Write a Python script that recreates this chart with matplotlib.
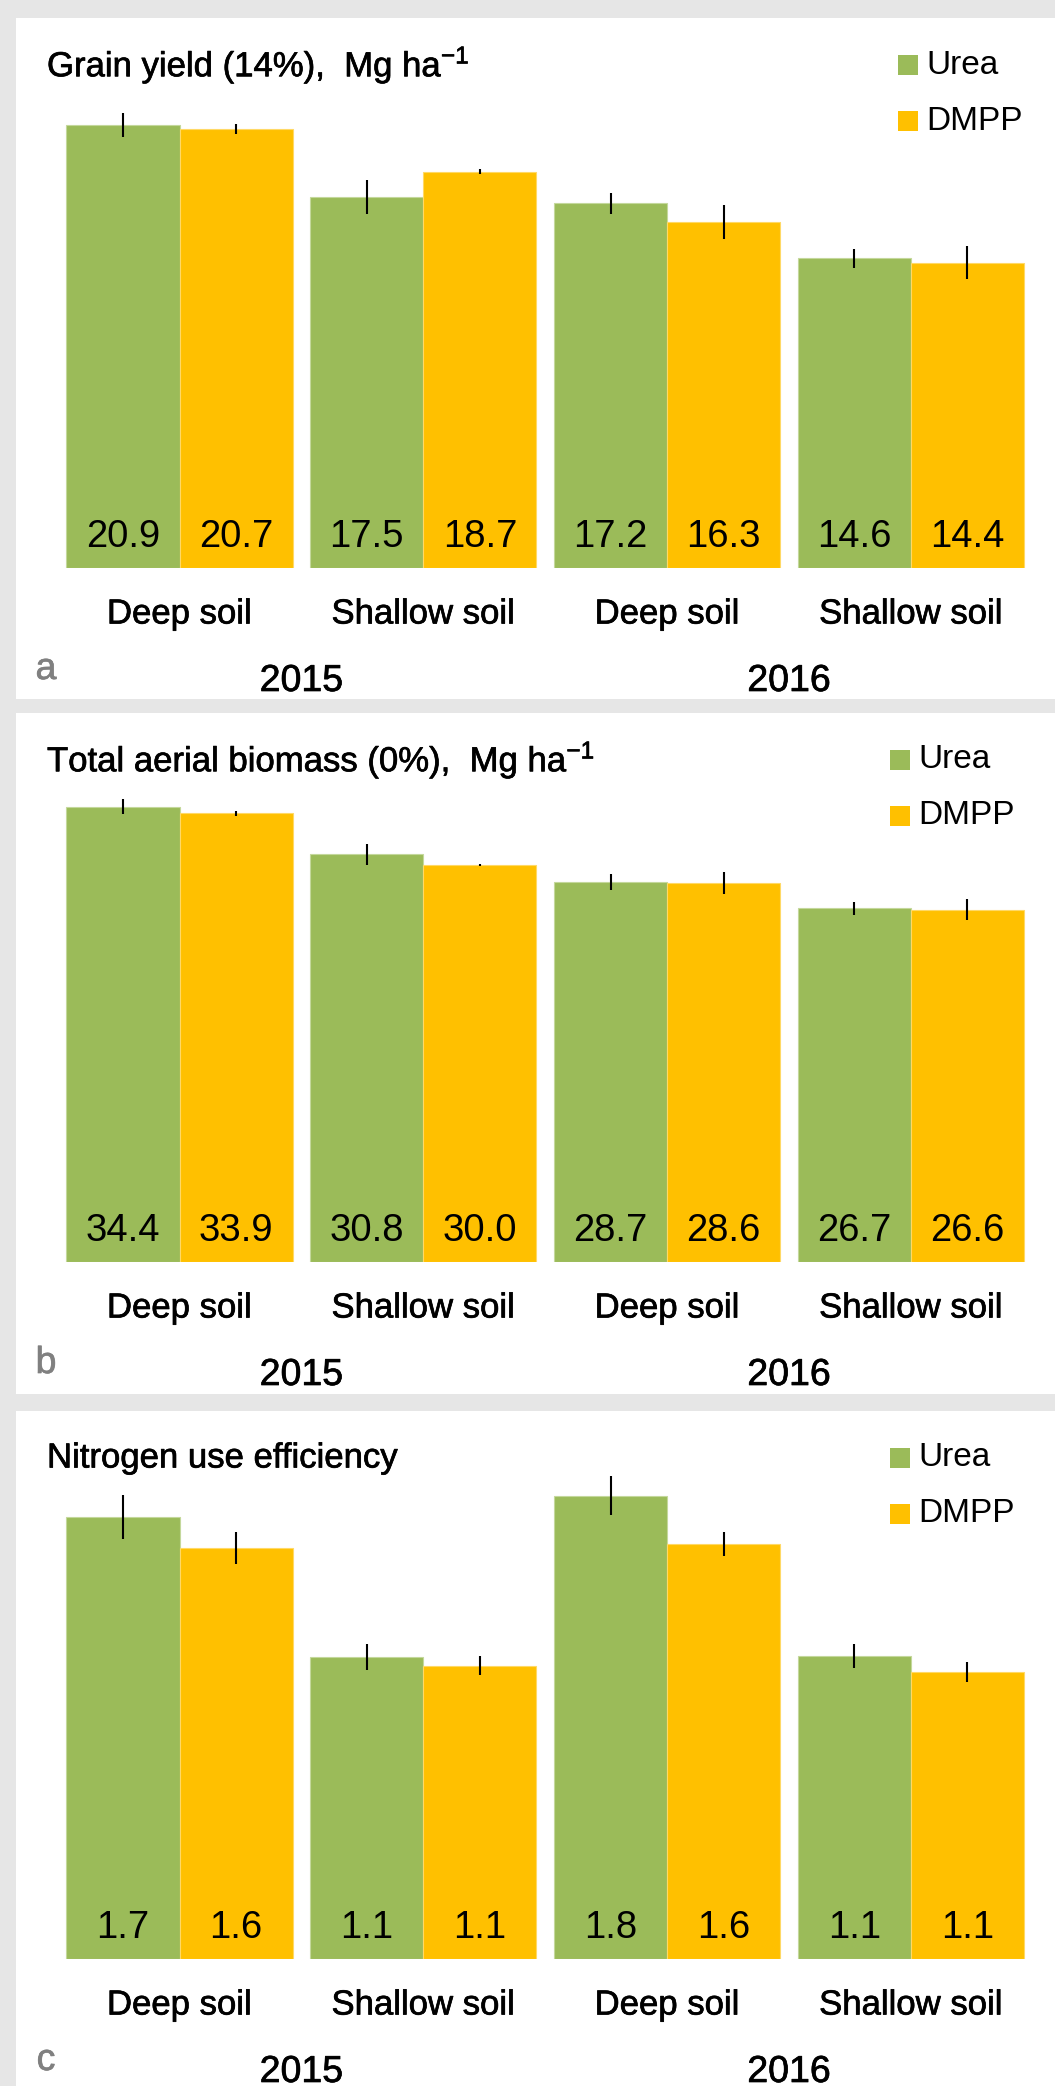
import matplotlib

matplotlib.use("Agg")

import matplotlib.patheffects as path_effects
import matplotlib.pyplot as plt
from matplotlib.patches import Rectangle
import numpy as np


plt.rcParams["font.family"] = ["Liberation Sans", "DejaVu Sans"]
plt.rcParams["mathtext.fontset"] = "custom"
plt.rcParams["mathtext.rm"] = "Liberation Sans"
plt.rcParams["mathtext.default"] = "regular"

# Data
categories = ["Deep soil", "Shallow soil", "Deep soil", "Shallow soil"]
years = ["2015", "2016"]
series_names = ["Urea", "DMPP"]

grain_urea = [20.9, 17.5, 17.2, 14.6]
grain_dmpp = [20.7, 18.7, 16.3, 14.4]
grain_urea_err = [0.57, 0.80, 0.50, 0.47]
grain_dmpp_err = [0.24, 0.12, 0.80, 0.78]

biomass_urea = [34.4, 30.8, 28.7, 26.7]
biomass_dmpp = [33.9, 30.0, 28.6, 26.6]
biomass_urea_err = [0.57, 0.80, 0.57, 0.50]
biomass_dmpp_err = [0.20, 0.08, 0.83, 0.80]

nue_urea = [1.674, 1.144, 1.754, 1.148]
nue_dmpp = [1.557, 1.110, 1.572, 1.087]
nue_urea_err = [0.083, 0.050, 0.074, 0.044]
nue_dmpp_err = [0.060, 0.036, 0.044, 0.038]

GREEN = "#9bbb59"
YELLOW = "#ffc000"
BACKGROUND = "#e6e6e6"

FIG_W, FIG_H = 1055, 2086
PT = 0.72  # points per pixel at dpi 100

# labels in the original are a little heavier than Liberation Sans
HEAVY = [path_effects.withStroke(linewidth=0.5, foreground="black")]
HEAVY_GREY = [path_effects.withStroke(linewidth=0.5, foreground="#808080")]


def fx(px):
    return px / FIG_W


def fy(px):
    return 1 - px / FIG_H


def draw_panel(fig, layout, title, letter, urea, dmpp, urea_err, dmpp_err):
    top, bottom, base, scale, legend_x = layout

    fig.add_artist(Rectangle((fx(16), fy(bottom)), 1 - fx(16),
                             (bottom - top) / FIG_H, transform=fig.transFigure,
                             facecolor="white", edgecolor="none", zorder=0))

    left_px, right_px = 57.6, 1032.9
    axis = fig.add_axes([fx(left_px), fy(base), fx(right_px - left_px),
                         (base - top) / FIG_H])
    axis.set_xlim(-0.5, 3.5)
    axis.set_ylim(0, (base - top) / scale)
    axis.axis("off")

    x = np.arange(len(categories))
    width = 0.4635
    axis.bar(x - width / 2, urea, width, color=GREEN, edgecolor="#c4d89c",
             linewidth=0.8)
    axis.bar(x + width / 2, dmpp, width, color=YELLOW, edgecolor="#ffd966",
             linewidth=0.8)
    axis.errorbar(x - width / 2, urea, yerr=urea_err, fmt="none",
                  ecolor="black", elinewidth=1.5, capsize=0)
    axis.errorbar(x + width / 2, dmpp, yerr=dmpp_err, fmt="none",
                  ecolor="black", elinewidth=1.5, capsize=0)

    for position, value in zip(x - width / 2, urea):
        axis.annotate(f"{value:.1f}", (position, 0), xytext=(0, 31 * PT),
                      textcoords="offset points", ha="center", va="center",
                      fontsize=27.5, annotation_clip=False)
    for position, value in zip(x + width / 2, dmpp):
        axis.annotate(f"{value:.1f}", (position, 0), xytext=(0, 31 * PT),
                      textcoords="offset points", ha="center", va="center",
                      fontsize=27.5, annotation_clip=False)

    for position, name in zip(x, categories):
        axis.annotate(name, (position, 0), xytext=(0, -46 * PT),
                      textcoords="offset points", ha="center", va="center",
                      fontsize=25, annotation_clip=False, path_effects=HEAVY)

    for position, year in zip([0.5, 2.5], years):
        axis.annotate(year, (position, 0), xytext=(0, -113 * PT),
                      textcoords="offset points", ha="center", va="center",
                      fontsize=27, annotation_clip=False, path_effects=HEAVY)

    fig.text(fx(46), fy(base + 101), letter, ha="center", va="center",
             fontsize=27, color="#808080", path_effects=HEAVY_GREY)
    fig.text(fx(47), fy(top + 47), title, ha="left", va="center",
             fontsize=25, path_effects=HEAVY)

    for offset, name, colour in zip([47, 103], series_names, [GREEN, YELLOW]):
        fig.add_artist(Rectangle((fx(legend_x), fy(top + offset + 10)),
                                 20 / FIG_W, 20 / FIG_H,
                                 transform=fig.transFigure, facecolor=colour,
                                 edgecolor="none"))
        fig.text(fx(legend_x + 28), fy(top + offset), name, ha="left",
                 va="center", fontsize=24)


def main():
    fig = plt.figure(figsize=(FIG_W / 100, FIG_H / 100), dpi=100,
                     facecolor=BACKGROUND)

    draw_panel(fig, (18, 699, 568, 21.2, 898),
               "Grain yield (14%),  Mg ha$^{-1}$", "a",
               grain_urea, grain_dmpp, grain_urea_err, grain_dmpp_err)
    draw_panel(fig, (713, 1394, 1262, 13.24, 890),
               "Total aerial biomass (0%),  Mg ha$^{-1}$", "b",
               biomass_urea, biomass_dmpp, biomass_urea_err, biomass_dmpp_err)
    draw_panel(fig, (1411, 2086, 1959, 264, 890),
               "Nitrogen use efficiency", "c",
               nue_urea, nue_dmpp, nue_urea_err, nue_dmpp_err)

    fig.savefig("out.png", dpi=100, facecolor=BACKGROUND)
    plt.close(fig)


if __name__ == "__main__":
    main()
